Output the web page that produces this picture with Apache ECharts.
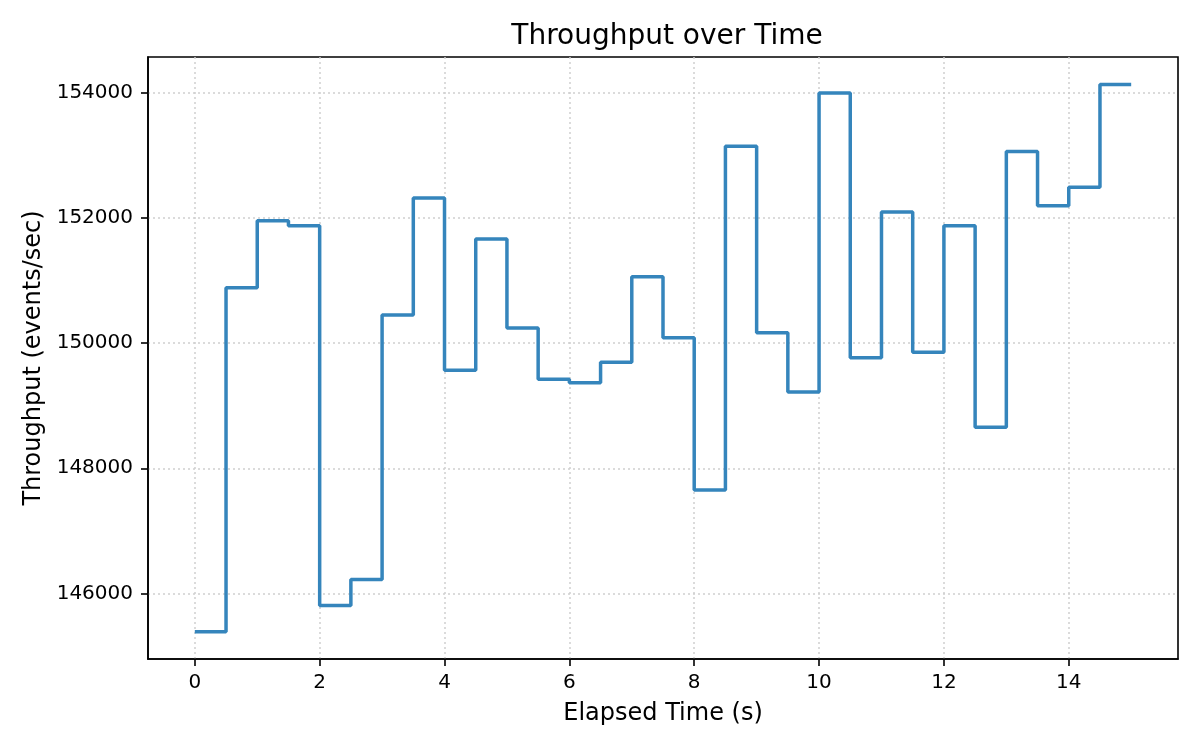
<!DOCTYPE html>
<html>
<head>
<meta charset="utf-8">
<script src="https://cdn.jsdelivr.net/npm/echarts@6/dist/echarts.min.js"></script>
<style>
  html, body { margin: 0; padding: 0; background: #fff; }
  #chart { width: 1200px; height: 750px; }
</style>
</head>
<body>
<div id="chart"></div>
<script>
// elapsed time (s), one sample every half second
var times = [0, 0.5, 1, 1.5, 2, 2.5, 3, 3.5, 4, 4.5, 5, 5.5, 6, 6.5, 7, 7.5,
             8, 8.5, 9, 9.5, 10, 10.5, 11, 11.5, 12, 12.5, 13, 13.5, 14, 14.5, 15];
// throughput (events/sec), held until the next sample
var throughput = [145392, 150880, 151952, 151872, 145808, 146224, 150448, 152315,
                  149563, 151659, 150240, 149419, 149366, 149691, 151056, 150085,
                  147654, 153141, 150165, 149216, 153989, 149765, 152091, 149851,
                  151872, 148656, 153056, 152192, 152485, 154128, 154128];
var xTicks = [0, 2, 4, 6, 8, 10, 12, 14];
var yTicks = [146000, 148000, 150000, 152000, 154000];

var font = 'DejaVu Sans';
var chart = echarts.init(document.getElementById('chart'));

var points = [];
for (var i = 0; i < times.length; i++) {
    points.push([times[i], throughput[i]]);
}

var gridLine = { show: true, lineStyle: { color: '#cfcfcf', width: 1.5, type: [2, 3] } };

var option = {
    backgroundColor: '#ffffff',
    animation: false,
    title: {
        text: 'Throughput over Time',
        left: 662,
        top: 18,
        textAlign: 'center',
        textStyle: { fontFamily: font, fontSize: 28, fontWeight: 'normal', color: '#000' }
    },
    grid: {
        left: 148, right: 22, top: 57, bottom: 91,
        show: true, borderColor: '#000', borderWidth: 1.6, backgroundColor: 'transparent'
    },
    xAxis: {
        type: 'value',
        min: -0.75,
        max: 15.75,
        name: 'Elapsed Time (s)',
        nameLocation: 'middle',
        nameGap: 43,
        nameTextStyle: { fontFamily: font, fontSize: 24, color: '#000' },
        axisLine: { show: true, onZero: false, lineStyle: { color: '#000', width: 1.6 } },
        axisTick: { show: true, length: 7, inside: false, customValues: xTicks,
                    lineStyle: { color: '#000', width: 1.6 } },
        axisLabel: { customValues: xTicks, margin: 14, fontFamily: font, fontSize: 20, color: '#000',
                     formatter: function (v) { return String(v); } },
        splitLine: gridLine
    },
    yAxis: {
        type: 'value',
        min: 144955,
        max: 154565,
        name: 'Throughput (events/sec)',
        nameLocation: 'middle',
        nameGap: 89,
        nameTextStyle: { fontFamily: font, fontSize: 24, color: '#000' },
        axisLine: { show: true, onZero: false, lineStyle: { color: '#000', width: 1.6 } },
        axisTick: { show: true, length: 7, inside: false, customValues: yTicks,
                    lineStyle: { color: '#000', width: 1.6 } },
        axisLabel: { customValues: yTicks, margin: 15, fontFamily: font, fontSize: 20, color: '#000',
                     formatter: function (v) { return String(v); } },
        splitLine: gridLine
    },
    series: [{
        type: 'line',
        step: 'end',
        data: points,
        showSymbol: false,
        symbol: 'none',
        lineStyle: { color: '#3585bc', width: 3.5 }
    }]
};

chart.setOption(option);
</script>
</body>
</html>
